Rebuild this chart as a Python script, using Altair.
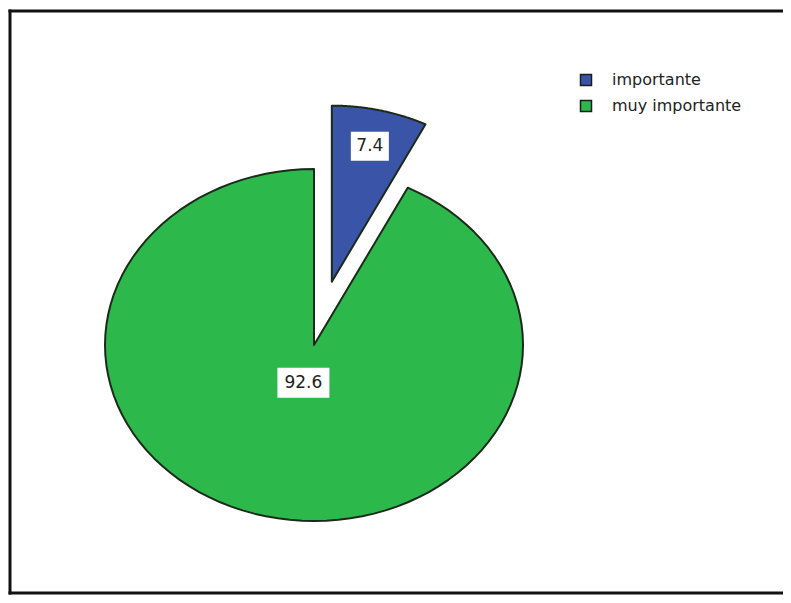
import altair as alt
import pandas as pd

# ---- data ----
categorias = ["importante", "muy importante"]
porcentajes = [7.4, 92.6]
colores = ["#3a54a8", "#2db84b"]

df = pd.DataFrame({
    "categoria": categorias,
    "porcentaje": porcentajes,
    "orden": list(range(len(categorias))),
})

# ---- layout ----
W, H = 775, 587
X_DOM = [-1.4641, 2.2440]
Y_DOM = [-1.4204, 1.9148]
xs = alt.Scale(domain=X_DOM, nice=False, zero=False)
ys = alt.Scale(domain=Y_DOM, nice=False, zero=False)

# label box shapes (custom symbol paths, scaled by point size)
box_paths = ["M-0.731,-0.558H0.731V0.558H-0.731Z", "M-1,-0.577H1V0.577H-1Z"]

base = (
    alt.Chart(df)
    .transform_joinaggregate(total="sum(porcentaje)")
    .transform_window(acum="sum(porcentaje)", sort=[alt.SortField("orden", order="ascending")], frame=[None, 0])
    .transform_calculate(a0="2*PI*(datum.acum - datum.porcentaje)/datum.total")
    .transform_calculate(a1="2*PI*datum.acum/datum.total")
    .transform_calculate(mid="(datum.a0 + datum.a1)/2")
    .transform_calculate(sep="datum.categoria == 'importante' ? 0.37 : 0")
    .transform_calculate(rlab="datum.categoria == 'importante' ? 0.79 : 0.22")
    .transform_calculate(cx="datum.sep*sin(datum.mid)")
    .transform_calculate(cy="datum.sep*cos(datum.mid)")
)

pie = (
    base.transform_calculate(t="sequence(-1, 101)")
    .transform_flatten(["t"])
    .transform_calculate(ang="datum.a0 + (datum.a1 - datum.a0)*datum.t/100")
    .transform_calculate(rr="datum.t < 0 ? 0 : 1")
    .transform_calculate(px="datum.cx + datum.rr*sin(datum.ang)")
    .transform_calculate(py="datum.cy + datum.rr*cos(datum.ang)")
    .mark_line(interpolate="linear-closed", stroke="#1c2a1c", strokeWidth=2, strokeJoin="round")
    .encode(
        x=alt.X("px:Q", scale=xs, axis=None),
        y=alt.Y("py:Q", scale=ys, axis=None),
        order=alt.Order("t:Q"),
        fill=alt.Fill(
            "categoria:N",
            scale=alt.Scale(domain=categorias, range=colores),
            legend=alt.Legend(
                title=None,
                orient="none",
                legendX=570,
                legendY=64,
                symbolType="square",
                symbolSize=121,
                symbolStrokeColor="#1c1c1c",
                symbolStrokeWidth=1.5,
                symbolOpacity=1,
                labelFont="DejaVu Sans",
                labelFontSize=16,
                labelColor="#222222",
                labelOffset=18,
                rowPadding=8,
                padding=0,
            ),
        ),
    )
)

lab = (
    base.transform_calculate(lx="datum.cx + datum.rlab*sin(datum.mid)")
    .transform_calculate(ly="datum.cy + datum.rlab*cos(datum.mid)")
)

boxes = lab.mark_point(filled=True, color="white", opacity=1, size=2704, strokeWidth=0).encode(
    x=alt.X("lx:Q", scale=xs, axis=None),
    y=alt.Y("ly:Q", scale=ys, axis=None),
    shape=alt.Shape("categoria:N", scale=alt.Scale(domain=categorias, range=box_paths), legend=None),
)

texts = lab.mark_text(font="DejaVu Sans", fontSize=17, color="#222222").encode(
    x=alt.X("lx:Q", scale=xs, axis=None),
    y=alt.Y("ly:Q", scale=ys, axis=None),
    text=alt.Text("porcentaje:Q", format=".1f"),
)

one = pd.DataFrame({"k": [0]})
borde_izq = alt.Chart(one).mark_rule(color="#111111", strokeWidth=3).encode(
    x=alt.value(2), y=alt.value(1.5), y2=alt.value(H - 0.5)
)
borde_sup = alt.Chart(one).mark_rule(color="#111111", strokeWidth=3).encode(
    x=alt.value(0.5), x2=alt.value(W), y=alt.value(3)
)
borde_inf = alt.Chart(one).mark_rule(color="#111111", strokeWidth=3).encode(
    x=alt.value(0.5), x2=alt.value(W), y=alt.value(H - 2)
)

chart = (
    alt.layer(pie, boxes, texts, borde_izq, borde_sup, borde_inf)
    .resolve_scale(shape="independent")
    .properties(width=W, height=H, padding=0, autosize=alt.AutoSizeParams(type="none"), background="white")
    .configure_view(stroke=None)
)

chart.save("out.html", embed_options={"renderer": "svg", "actions": False})
